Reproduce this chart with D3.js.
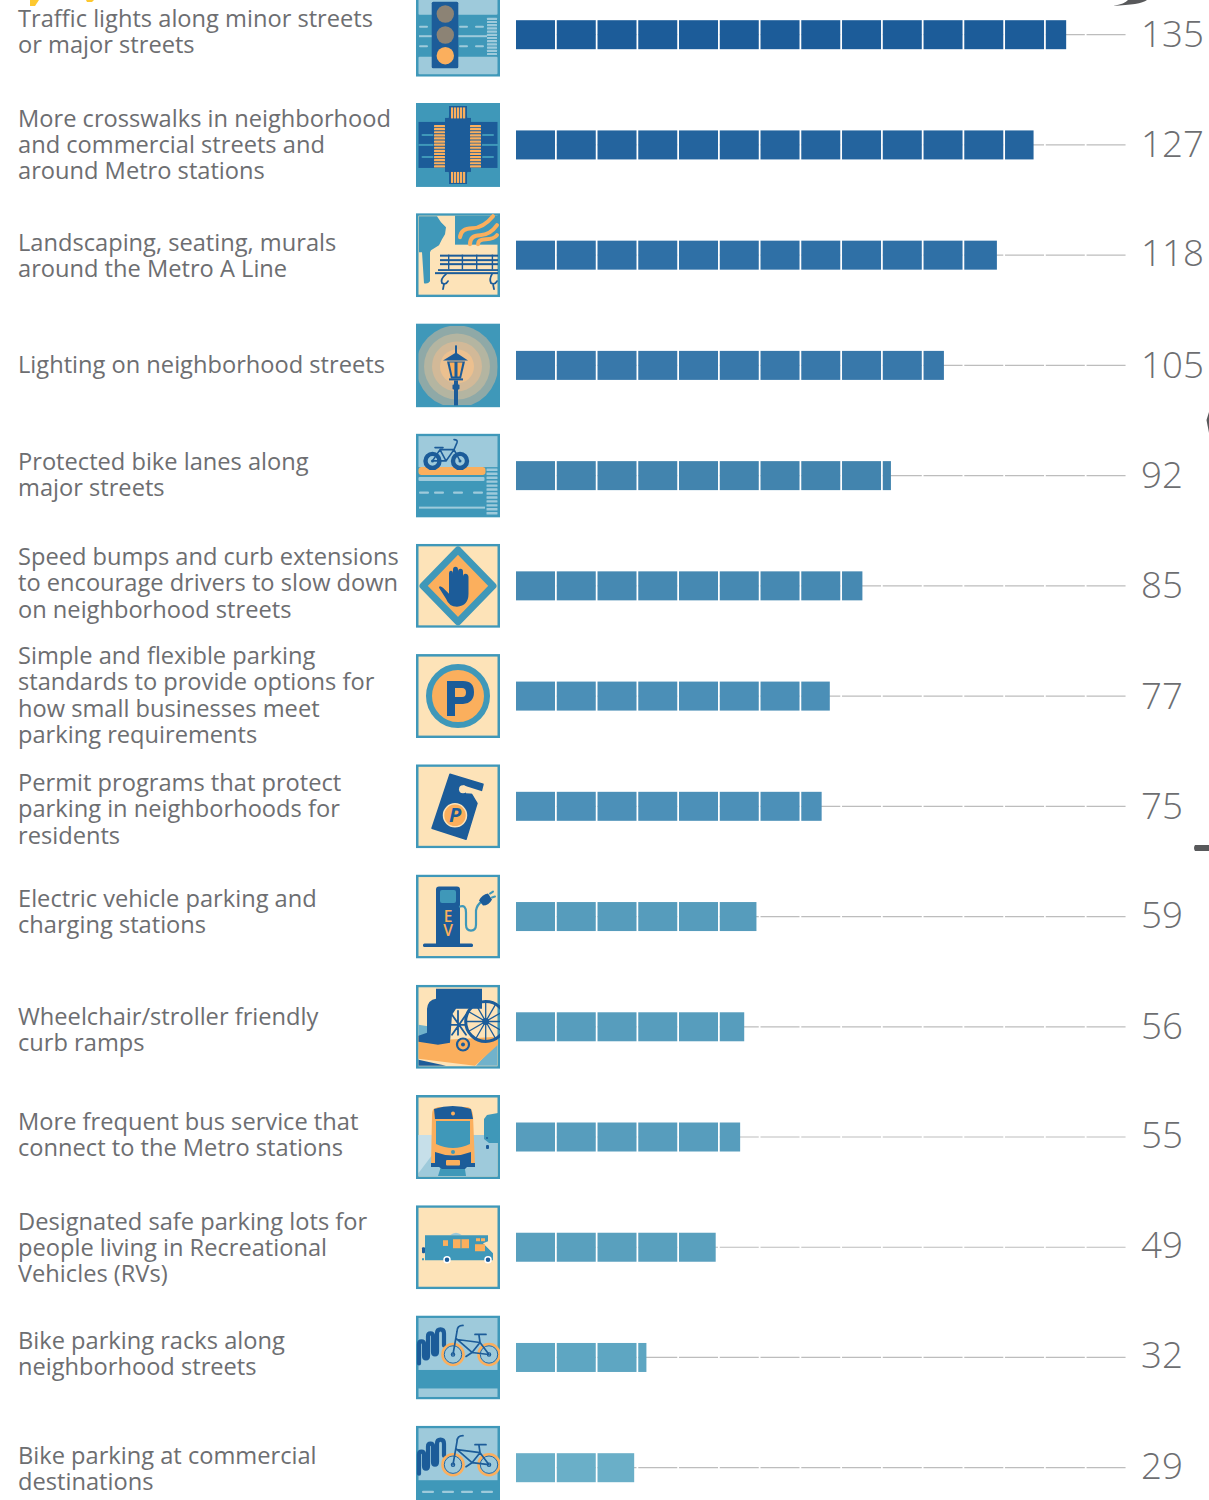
<!DOCTYPE html>
<html>
<head>
<meta charset="utf-8">
<script src="https://d3js.org/d3.v7.min.js"></script>
<style>
html, body { margin: 0; padding: 0; background: #fff; }
svg { display: block; }
text { font-family: "Open Sans", sans-serif; fill: #6d6e71; }
</style>
</head>
<body>
<div id="chart"></div>
<script>
// data
var labels = [
  ["Traffic lights along minor streets", "or major streets"],
  ["More crosswalks in neighborhood", "and commercial streets and", "around Metro stations"],
  ["Landscaping, seating, murals", "around the Metro A Line"],
  ["Lighting on neighborhood streets"],
  ["Protected bike lanes along", "major streets"],
  ["Speed bumps and curb extensions", "to encourage drivers to slow down", "on neighborhood streets"],
  ["Simple and flexible parking", "standards to provide options for", "how small businesses meet", "parking requirements"],
  ["Permit programs that protect", "parking in neighborhoods for", "residents"],
  ["Electric vehicle parking and", "charging stations"],
  ["Wheelchair/stroller friendly", "curb ramps"],
  ["More frequent bus service that", "connect to the Metro stations"],
  ["Designated safe parking lots for", "people living in Recreational", "Vehicles (RVs)"],
  ["Bike parking racks along", "neighborhood streets"],
  ["Bike parking at commercial", "destinations"]
];
var values = [135, 127, 118, 105, 92, 85, 77, 75, 59, 56, 55, 49, 32, 29];
var icons = ["traffic", "crosswalk", "bench", "lamp", "bikelane", "hand", "parking", "hanger", "ev", "wheelchair", "train", "rv", "rack", "rackroad"];

// small nudges seen in the original layout
var labelShift = [-3, -0.5, 0.5, -0.5, -1, -3, -1, 2.5, -5, 2.5, -2.5, 0.5, -4, 1];
var valueShift = [-0.5, 0, -2, 0.5, -0.5, 0, 0, 0.5, -1.5, 0, -2, -2, -1.5, -1.5];

var teal = "#3f98b9", navy = "#1c5c99", cream = "#fde3b8", orange = "#fbaf5d", pale = "#9ecadb";

var width = 1209, height = 1500;

var svg = d3.select("#chart")
  .append("svg")
    .attr("width", width)
    .attr("height", height);

var x = d3.scaleLinear().domain([0, 150]).range([516, 1127.3]);
var y = d3.scalePoint().domain(d3.range(values.length)).range([34.7, 1467.7]);
var color = d3.scaleLinear()
  .domain([29, 32, 59, 77, 92, 105, 118, 127, 135])
  .range(["#6aafc8", "#5ea6c2", "#569cbc", "#4b8fb7", "#4284ae", "#3878aa", "#2f70a6", "#24649e", "#1c5c99"]);
var cell = 39, barH = 29, step = 10;

var rows = svg.selectAll("g.row")
  .data(values)
  .enter()
  .append("g")
    .attr("class", "row")
    .attr("transform", function(d, i) { return "translate(0," + y(i) + ")"; });

// grey track behind each bar
rows.selectAll("line.track")
  .data(function(d) { return d3.range(0, 150, step); })
  .enter()
  .append("line")
    .attr("class", "track")
    .attr("x1", function(d) { return x(d); })
    .attr("x2", function(d) { return x(d) + cell; })
    .attr("stroke", "#bdbdbd")
    .attr("stroke-width", 1.2);

// bars are made of blocks of ten
rows.each(function(v) {
  var starts = d3.range(0, v, step);
  d3.select(this).selectAll("rect.block")
    .data(starts)
    .enter()
    .append("rect")
      .attr("class", "block")
      .attr("x", function(d) { return x(d); })
      .attr("y", -barH / 2)
      .attr("width", function(d) { return Math.min(cell, x(v) - x(d)); })
      .attr("height", barH)
      .attr("fill", color(v));
});

// category labels
rows.append("text")
    .attr("font-size", 23.65)
    .attr("transform", function(d, i) { return "translate(0," + labelShift[i] + ")"; })
  .each(function(d, i) {
    var lines = labels[i];
    d3.select(this).selectAll("tspan")
      .data(lines)
      .enter()
      .append("tspan")
        .attr("x", 18)
        .attr("y", function(l, j) { return (j - (lines.length - 1) / 2) * 26.2 + 8.5; })
        .text(function(l) { return l; });
  });

// value labels
rows.append("text")
    .attr("x", 1141)
    .attr("y", function(d, i) { return valueShift[i] + 12.5; })
    .attr("font-size", 36.7)
    .attr("font-weight", 300)
    .text(function(d) { return d; });

// helpers for the pictograms
function rect(g, a, b, w, h, fill, rx) {
  return g.append("rect").attr("x", a).attr("y", b).attr("width", w).attr("height", h).attr("fill", fill).attr("rx", rx || 0);
}
function circle(g, a, b, r, fill) {
  return g.append("circle").attr("cx", a).attr("cy", b).attr("r", r).attr("fill", fill);
}
function path(g, d, fill, stroke, sw) {
  return g.append("path").attr("d", d).attr("fill", fill || "none").attr("stroke", stroke || "none")
    .attr("stroke-width", sw || 0).attr("stroke-linecap", "round").attr("stroke-linejoin", "round");
}
function dashes(g, list, b, w, h, fill) {
  list.forEach(function(a) { rect(g, a, b, w, h, fill, 1); });
}
function zebra(g, a, b, w, n, gap, h, fill) {
  d3.range(n).forEach(function(k) { rect(g, a, b + k * gap, w, h, fill, 0.5); });
}
function wheel(g, a, b, r, tire, sw, hub) {
  g.append("circle").attr("cx", a).attr("cy", b).attr("r", r).attr("fill", "none").attr("stroke", tire).attr("stroke-width", sw);
  g.append("circle").attr("cx", a).attr("cy", b).attr("r", 1.7).attr("fill", "none").attr("stroke", hub).attr("stroke-width", 1.2);
}
function rackBike(g) {
  path(g, "M3 48V29Q3 26 5.500 26T8 29V40Q8 43 10 43T12 40V21Q12 18 14.500 18T17 21V36Q17 39 19 39T21 36V18Q21 14 24.500 14T28 18V30", "none", navy, 4.200);
  wheel(g, 37, 39, 10.500, orange, 2.600, navy);
  wheel(g, 73, 39, 10.500, orange, 2.600, navy);
  g.append("circle").attr("cx", 37).attr("cy", 39).attr("r", 8.700).attr("fill", "none").attr("stroke", navy).attr("stroke-width", 0.9);
  g.append("circle").attr("cx", 73).attr("cy", 39).attr("r", 8.700).attr("fill", "none").attr("stroke", navy).attr("stroke-width", 0.9);
  path(g, "M37 39L41 16Q41 10 47 10M41 24L64 27L56 37L40 23M64 27L73 39M56 37L73 39M64 27L63 20M59 19H70M56 37L50 41", "none", navy, 1.700);
}

var draw = {
  traffic: function(g) {
    rect(g, 0, 0, 84, 84, teal);
    rect(g, 2.500, 0, 79, 22, pale, 1);
    rect(g, 2.500, 64, 79, 17.500, pale, 1);
    dashes(g, [3, 43, 59], 33, 9, 2, pale);
    dashes(g, [3, 43, 59], 52.500, 9, 2, pale);
    rect(g, 3, 42.500, 68, 2, pale);
    zebra(g, 71, 25, 10, 12, 3.200, 2.200, pale);
    rect(g, 15.700, 9, 26.600, 66.600, navy, 1.500);
    circle(g, 29.300, 21.300, 8.700, "#8c8375");
    circle(g, 29.300, 42.300, 8.700, "#8c8375");
    circle(g, 29.300, 63, 8.700, orange);
  },
  crosswalk: function(g) {
    rect(g, 0, 0, 84, 84, teal);
    rect(g, 2.500, 19, 79, 46, navy);
    path(g, "M33 3H51V13Q51 17 55 19H29Q33 17 33 13ZM29 65Q33 67 33 71V81H51V71Q51 67 55 65Z", navy);
    rect(g, 29, 15, 26, 54, navy);
    zebra(g, 18, 22, 11, 14, 3.100, 2.200, orange);
    zebra(g, 54, 22, 11, 14, 3.100, 2.200, orange);
    d3.range(5).forEach(function(k) {
      rect(g, 35 + k * 3, 4.500, 2.200, 11, orange);
      rect(g, 35 + k * 3, 69, 2.200, 11, orange);
    });
    dashes(g, [5.500, 66], 31, 12, 2, teal);
    dashes(g, [5.500, 66], 53, 12, 2, teal);
    rect(g, 2.500, 41, 15, 2, teal);
    rect(g, 66, 41, 16, 2, teal);
  },
  bench: function(g) {
    rect(g, 0, 0, 84, 84, teal);
    rect(g, 2.500, 2.500, 79, 79, cream);
    rect(g, 39, 2.500, 43, 29, teal);
    path(g, "M3 3H21L25 9L30 14L29 21L26 26L23 32L15 37L14 39V68Q12 71 8 70L6 39H3Z", teal);
    path(g, "M44 24Q45 15 56 15T77 3M54 31Q54 22 64 22T81 12M62 31Q62 26 70 26T81 22", "none", orange, 4);
    [41.500, 46, 50].forEach(function(b) { rect(g, 24, b, 58, 2, navy); });
    [32, 45.700, 60, 75.700].forEach(function(a) { rect(g, a, 41.500, 1.400, 15, navy); });
    rect(g, 22, 56, 60, 1.800, navy);
    rect(g, 19, 59, 63, 2, navy);
    path(g, "M30 61Q24 66 26 70Q30 72 32 68M28 71L27 76M76 61Q73 66 75 70Q79 72 81 68M77 71L78 76", "none", navy, 1.800);
  },
  lamp: function(g) {
    rect(g, 0, 0, 84, 84, teal);
    g.append("clipPath").attr("id", "lampclip").append("rect").attr("x", 2.500).attr("y", 2.500).attr("width", 79).attr("height", 79);
    var halos = g.append("g").attr("clip-path", "url(#lampclip)");
    [[41, "#8fa9a7"], [33, "#b4b5a1"], [25, "#d2b998"], [17, "#ecc08f"]].forEach(function(h) {
      circle(halos, 41, 43, h[0], h[1]);
    });
    rect(g, 39, 22, 2, 9, navy);
    path(g, "M27 37L40 29L52 37Z", navy);
    path(g, "M31 38H49L45 55H35Z", navy);
    path(g, "M33.500 39H38.500V53H36.500ZM41.500 39H46.500L43.500 53H41.500Z", orange);
    rect(g, 33, 55, 14, 2, navy);
    rect(g, 38, 57, 4, 25, navy);
    rect(g, 36.500, 61, 7, 5, navy, 1);
  },
  bikelane: function(g) {
    rect(g, 0, 0, 84, 84, teal);
    rect(g, 2.500, 2.500, 79, 31, pale);
    rect(g, 2.500, 33.500, 67, 8, orange, 3);
    rect(g, 2.500, 43.500, 66, 4, pale, 1);
    dashes(g, [3, 18, 37, 57], 58, 10, 2.200, pale);
    rect(g, 3, 73, 66, 2, pale);
    zebra(g, 70.500, 35, 11, 12, 3.950, 2.400, pale);
    g.append("circle").attr("cx", 16.500).attr("cy", 27.300).attr("r", 7).attr("fill", pale).attr("stroke", navy).attr("stroke-width", 4.400);
    g.append("circle").attr("cx", 44).attr("cy", 27.300).attr("r", 7).attr("fill", pale).attr("stroke", navy).attr("stroke-width", 4.400);
    circle(g, 16.500, 27.300, 1.500, navy);
    circle(g, 44, 27.300, 1.500, navy);
    path(g, "M16.500 27.300L24 16H38L30 27.300H16.500M24 16L30 27.300M38 16L44 27.300M38 16L41 9Q42 6 38 6M19 14H27", "none", navy, 1.600);
  },
  hand: function(g) {
    rect(g, 0, 0, 84, 84, teal);
    rect(g, 2.500, 2.500, 79, 79, cream);
    path(g, "M42 6L77 42L42 78L7 42Z", orange, teal, 7);
    path(g, "M23 44Q23 41 27 44L33 50V30Q33 27 35 27T37 30V26Q37 23 39.500 23T42 26V28Q42 25 44.500 25T47 28V33Q47 30 49.500 30T52.500 33V50Q52.500 62 41 63Q33 63 30 55Z", navy);
  },
  parking: function(g) {
    rect(g, 0, 0, 84, 84, teal);
    rect(g, 2.500, 2.500, 79, 79, cream);
    g.append("circle").attr("cx", 42).attr("cy", 42).attr("r", 29).attr("fill", orange).attr("stroke", teal).attr("stroke-width", 6);
    path(g, "M31 27H47Q58 27 58 38T47 50H39V62H31ZM39 34V43H46Q50 43 50 38.500T46 34Z", navy).attr("fill-rule", "evenodd");
  },
  hanger: function(g) {
    rect(g, 0, 0, 84, 84, teal);
    rect(g, 2.500, 2.500, 79, 79, cream);
    path(g, "M34 10L67 20L65 28L52 24L61 39L50 75L16 64Z", navy, navy, 1.500);
    circle(g, 47, 25, 4, cream);
    path(g, "M47 21L66 27V30L50 29Z", cream);
    g.append("circle").attr("cx", 39).attr("cy", 51).attr("r", 11.500).attr("fill", orange).attr("stroke", cream).attr("stroke-width", 1.500);
    g.append("text").attr("x", 39).attr("y", 58).attr("text-anchor", "middle")
      .attr("font-size", 20).attr("font-weight", 700).attr("font-style", "italic").style("fill", navy).text("P");
  },
  ev: function(g) {
    rect(g, 0, 0, 84, 84, teal);
    rect(g, 2.500, 2.500, 79, 79, cream);
    rect(g, 20, 12, 24, 60, navy, 3);
    rect(g, 7, 69, 50, 3.500, navy, 1.500);
    rect(g, 24, 15.500, 16, 13, teal, 2);
    g.append("text").attr("x", 32).attr("y", 47).attr("text-anchor", "middle")
      .attr("font-size", 15.500).attr("font-weight", 600).style("fill", orange).text("E");
    g.append("text").attr("x", 32).attr("y", 61).attr("text-anchor", "middle")
      .attr("font-size", 15.500).attr("font-weight", 600).style("fill", orange).text("V");
    path(g, "M44 32Q50 30 50 38V50Q50 56 55 56T60 50V36Q61 30 66 27", "none", teal, 2.200);
    path(g, "M63 26Q66 20 72 19L76 25Q73 31 67 31Z", navy);
    path(g, "M74 19L77 17M76 23L79 22", "none", teal, 2);
  },
  wheelchair: function(g) {
    rect(g, 0, 0, 84, 84, teal);
    rect(g, 2.500, 2.500, 79, 79, cream);
    path(g, "M2.500 40L15 42V60L2.500 65ZM60 81L81 58V81Z", "#71b2cb");
    path(g, "M2.500 74V52L30 55L82 52V60L59 81Z", orange);
    path(g, "M2.500 75L30 81H2.500Z", navy);
    path(g, "M20 4H66V24H40L36 30L34 58L22 60L2.500 57V51L11 48V24Q12 15 20 14Z", navy);
    wheel(g, 69.700, 36.700, 20, navy, 3, navy);
    d3.range(0, 180, 30).forEach(function(a) {
      var r = a * Math.PI / 180;
      path(g, "M" + (69.700 - 20 * Math.cos(r)) + " " + (36.700 - 20 * Math.sin(r)) + "L" + (69.700 + 20 * Math.cos(r)) + " " + (36.700 + 20 * Math.sin(r)), "none", navy, 1.300);
    });
    circle(g, 69.700, 36.700, 3.500, navy);
    path(g, "M36 30L50 50M50 30L36 50M42 26V50M34 40H50", "none", navy, 1.800);
    g.append("circle").attr("cx", 47).attr("cy", 59.700).attr("r", 6).attr("fill", "none").attr("stroke", navy).attr("stroke-width", 2.200);
    circle(g, 47, 59.700, 2, navy);
  },
  train: function(g) {
    rect(g, 0, 0, 84, 84, teal);
    rect(g, 2.500, 2.500, 79, 79, cream);
    rect(g, 2.500, 40, 79, 41.500, pale);
    path(g, "M2.500 40H20V55L2.500 78Z", "#c6dfe9");
    path(g, "M22 81L26 68H48L50 81Z", teal);
    path(g, "M16 20Q16 13 20 13L22 12H52Q56 13 57 20L59 71H15Z", orange);
    path(g, "M18 14Q37 8 55 14L57 24H19Z", navy);
    circle(g, 37, 18.500, 2, orange);
    path(g, "M20 26H54V49Q37 57 20 49Z", teal);
    path(g, "M19 57Q37 64 55 57V68H59V72H51L49 74H26L23 72H15V68H19Z", navy);
    circle(g, 37, 57, 2, teal);
    rect(g, 30, 65, 14, 5.500, orange, 1);
    path(g, "M71 20L82 18V48H73L68 44V24Z", teal);
    rect(g, 70, 50, 3, 4, navy, 1);
    circle(g, 71, 43, 1, navy);
  },
  rv: function(g) {
    rect(g, 0, 0, 84, 84, teal);
    rect(g, 2.500, 2.500, 79, 79, cream);
    path(g, "M34 30Q40 25 46 30Z", pale);
    path(g, "M9 30H72V36L67 38L77 48V55H9Z", teal);
    rect(g, 59, 39, 10, 7, orange);
    rect(g, 60, 33, 4, 3, orange);
    rect(g, 65, 33, 4, 3, orange);
    rect(g, 27, 35, 5, 5.700, orange);
    rect(g, 37, 34, 16, 9, orange);
    rect(g, 44.500, 34, 1, 9, teal);
    rect(g, 6, 42, 3, 6, navy, 1);
    rect(g, 6, 53, 2, 2, teal);
    g.append("circle").attr("cx", 31).attr("cy", 54.500).attr("r", 3).attr("fill", navy).attr("stroke", "#fff").attr("stroke-width", 1.500);
    g.append("circle").attr("cx", 72).attr("cy", 54.500).attr("r", 3).attr("fill", navy).attr("stroke", "#fff").attr("stroke-width", 1.500);
  },
  rack: function(g) {
    rect(g, 0, 0, 84, 84, teal);
    rect(g, 2.500, 2.500, 79, 52, pale);
    rect(g, 2.500, 73, 79, 8.500, pale);
    rackBike(g);
  },
  rackroad: function(g) {
    rect(g, 0, 0, 84, 84, teal);
    rect(g, 2.500, 2.500, 79, 52, pale);
    dashes(g, [6, 26, 45, 65], 65, 12, 2.200, pale);
    rackBike(g);
  }
};

var defs = svg.append("defs");
defs.append("clipPath").attr("id", "iconclip")
  .append("rect").attr("width", 84).attr("height", 84);

rows.append("g")
    .attr("transform", "translate(416,-42)")
    .attr("clip-path", "url(#iconclip)")
  .each(function(d, i) {
    draw[icons[i]](d3.select(this));
  });

// pieces of the neighbouring artwork cut by the frame
path(svg, "M30 0H39L35 6H30Z", "#fdc82f");
path(svg, "M86 0H94L92 2H87Z", "#fdc82f");
path(svg, "M1113 5.700Q1125 4 1128 0H1147Q1140 5 1113 5.700Z", "#58595b");
path(svg, "M1209 412L1206.500 420L1209 433Z", "#58595b");
path(svg, "M1195 845H1209V851H1195Q1193 848 1195 845Z", "#58595b");
</script>
</body>
</html>
